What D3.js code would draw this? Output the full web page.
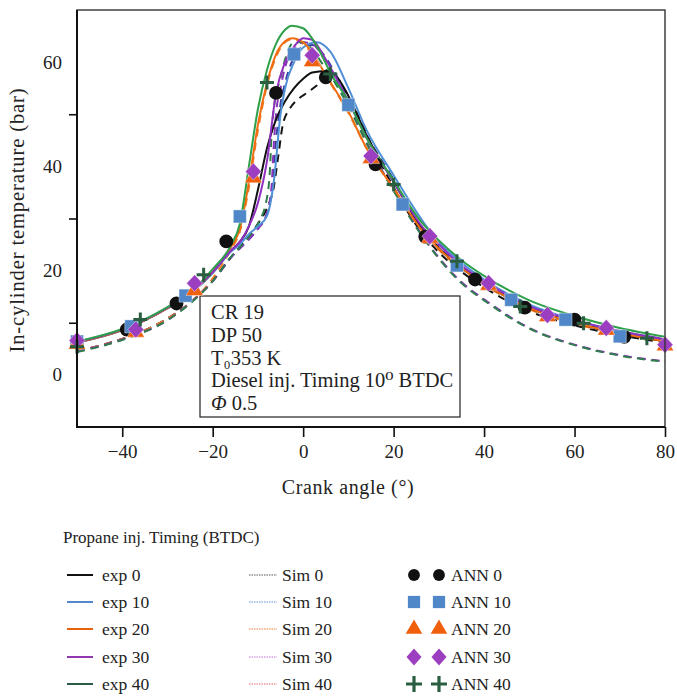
<!DOCTYPE html>
<html>
<head>
<meta charset="utf-8">
<script src="https://cdn.jsdelivr.net/npm/d3@7"></script>
<style>
  body { margin: 0; background: #fff; }
  text { font-family: "Liberation Serif", "DejaVu Serif", serif; fill: #222; }
</style>
</head>
<body>
<div id="chart"></div>
<script>
// experimental curves, [crank angle, value]
var exp0 = [[-50,6.2],[-40,8.6],[-30,12.8],[-25,15.6],[-20,19.6],[-16,23.8],[-14,25.5],[-12,28.5],[-10,35.5],[-8,43.5],[-6,49],[-4,52.5],[-2,55],[0,56.8],[2,58],[5,58.3],[8,56.5],[10,53.5],[14,46],[20,37],[26,28.5],[30,24.3],[35,20.5],[40,17.5],[50,12.8],[60,10],[70,8],[80,6.5]];
var exp10 = [[-50,6.2],[-40,8.6],[-30,12.8],[-25,15.6],[-20,19.6],[-16,23.6],[-14,25],[-12,27],[-10,28.5],[-8,30.5],[-6.5,37],[-5,50],[-4,55],[-2,60],[0,62.8],[3,63.8],[6,62],[10,55],[14,47],[20,38.3],[27,28.8],[30,25.5],[35,21.5],[40,18.3],[50,13.5],[60,10.5],[70,8.4],[80,6.8]];
var exp20 = [[-50,6.2],[-40,8.6],[-30,12.8],[-25,15.6],[-20,19.8],[-16,24.5],[-14,28],[-12,37],[-10,48],[-8,56],[-6,61.5],[-4,64],[-2.5,64.6],[0,63.8],[2,61.8],[4,59],[6,56.2],[10,50.5],[14,43.5],[20,35.8],[26,28],[30,24.2],[35,20.5],[40,17.5],[50,12.8],[60,10],[70,8],[80,6.5]];
var exp30 = [[-50,6.3],[-40,8.7],[-30,12.9],[-25,15.7],[-20,19.7],[-16,23.8],[-14,25.5],[-12,28.5],[-10,33],[-8,41],[-6,54],[-4,60],[-2,63],[0,64.6],[2,64.3],[4,62],[6,59],[10,52.5],[14,45.5],[20,37],[26,28.8],[30,25],[35,21],[40,18],[50,13.2],[60,10.5],[70,8.4],[80,6.8]];
var exp40 = [[-50,6.4],[-40,8.8],[-30,13],[-25,15.8],[-20,20.3],[-16,24.8],[-14,29],[-12,40],[-10,51],[-8,58.5],[-6,63.5],[-4,66.2],[-2.5,67],[0,66.5],[2,64.5],[4,61.5],[6,58],[10,52.5],[14,45.5],[20,37.3],[26,29.5],[30,25.8],[35,22],[40,19],[50,14.3],[60,11.3],[70,9],[80,7.3]];

// simulated curves
var sim0 = [[-50,4.6],[-40,6.9],[-30,10.8],[-25,13.8],[-20,18],[-16,22.5],[-14,24.5],[-12,26.5],[-10,29],[-8,32],[-6.5,36],[-5.5,42],[-4.5,48],[-3,51],[-1,53],[1,54.2],[3,55.5],[5,57],[7,57.3],[9,55],[12,50],[16,42.5],[20,36],[26,27.5],[30,23.5],[35,19.8],[40,16.8],[50,12.2],[60,9.5],[70,7.6],[80,6.2]];
var sim10 = [[-50,4.6],[-40,6.9],[-30,10.8],[-25,13.8],[-20,18],[-16,22.5],[-12,26],[-10,28],[-8,31],[-7,35],[-6,45],[-5,52],[-4,56],[-2,61],[0,63],[2,63.3],[4,62],[6,59.5],[10,53],[14,46],[20,37.5],[26,28.5],[30,24.5],[35,20.8],[40,17.8],[50,13],[60,10.2],[70,8.2],[80,6.6]];
var sim20 = [[-50,4.6],[-40,6.9],[-30,10.8],[-25,13.8],[-20,18.5],[-16,24],[-14,27.5],[-12,36],[-10,47],[-8,55.5],[-6,61],[-4,63.8],[-2.5,64.4],[0,63.5],[2,61.5],[4,58.8],[6,56],[10,50.3],[14,43.5],[20,35.8],[26,28],[30,24],[35,20.3],[40,17.3],[50,12.6],[60,9.8],[70,7.9],[80,6.4]];
var sim30 = [[-50,4.5],[-40,6.8],[-30,10.5],[-25,13.8],[-20,18],[-16,22.5],[-12,26],[-10,28],[-8,31],[-7,36],[-6.5,44],[-6,50],[-5,55],[-4,59],[-2,62.5],[0,63.8],[2,63.5],[4,61.5],[6,58.5],[10,52],[15,43],[20,35.5],[25,28.5],[30,22.5],[35,17.8],[40,14.5],[50,9],[60,5.8],[70,3.8],[80,2.6]];
var sim40 = [[-50,4.4],[-40,6.7],[-30,10.5],[-25,13.7],[-20,18],[-16,22.6],[-12,26.5],[-10,29],[-8,34],[-7.3,40],[-7,46],[-6.5,51],[-5,57],[-4,60.5],[-2,63.8],[0,63.8],[2,62.5],[4,60],[6,57.5],[10,51.5],[15,42.8],[20,35.3],[25,28.3],[30,22.3],[35,17.6],[40,14.3],[50,8.9],[60,5.7],[70,3.7],[80,2.5]];

// ANN predictions
var ann0X = [-50,-39,-28,-17,-6,5,16,27,38,49,60,71];
var ann0Y = [6.2,8.7,13.7,25.6,54.1,57.1,40.4,26.5,18.3,12.9,10.6,7.3];
var ann10X = [-50,-38,-26,-14,-2,10,22,34,46,58,70];
var ann10Y = [6.4,9.3,15.2,30.4,61.5,51.8,32.7,21.0,14.4,10.6,7.4];
var ann20X = [-50,-37,-24,-11,2,15,28,41,54,67,80];
var ann20Y = [5.9,8.2,16.2,37.8,60.1,41.5,26.2,17.2,11.2,8.6,5.6];
var ann30X = [-50,-37,-24,-11,2,15,28,41,54,67,80];
var ann30Y = [6.6,8.7,17.6,39.0,61.3,42.0,26.6,17.6,11.5,9.0,5.8];
var ann40X = [-50,-36,-22,-8,6,20,34,48,62,76];
var ann40Y = [5.4,10.6,19.2,56.1,57.7,36.5,21.8,13.1,9.9,7.05];

var xTicks = [-40,-20,0,20,40,60,80];
var yLabels = [0,20,40,60];
var yMinor = [10,30,50];

var expNames = ["exp 0","exp 10","exp 20","exp 30","exp 40"];
var simNames = ["Sim 0","Sim 10","Sim 20","Sim 30","Sim 40"];
var annNames = ["ANN 0","ANN 10","ANN 20","ANN 30","ANN 40"];

(function(){
var W = 677, H = 697;
var pL = 77, pR = 665, pT = 10, pB = 427;

var svg = d3.select("#chart").append("svg")
  .attr("width", W)
  .attr("height", H);

var x = d3.scaleLinear().domain([-50, 80]).range([pL, pR]);
var y = d3.scaleLinear().domain([-10, 70]).range([pB, pT]);

svg.append("defs").append("clipPath").attr("id", "clip")
  .append("rect")
  .attr("x", pL).attr("y", pT)
  .attr("width", pR - pL).attr("height", pB - pT);

var line = d3.line()
  .x(function(d){ return x(d[0]); })
  .y(function(d){ return y(d[1]); })
  .curve(d3.curveMonotoneX);

// text box
svg.append("rect")
  .attr("x", 200).attr("y", 296)
  .attr("width", 260).attr("height", 121)
  .attr("fill", "#fff")
  .attr("stroke", "#222")
  .attr("stroke-width", 1.2);

var boxLines = ["CR 19", "DP 50", "T\u2080353 K", "Diesel inj. Timing 10\u2070 BTDC"];
svg.selectAll("text.box")
  .data(boxLines)
  .enter()
  .append("text")
  .attr("x", 211)
  .attr("y", function(d, i){ return 319 + i * 22.8; })
  .attr("font-size", 20.5)
  .text(function(d){ return d; });
var phi = svg.append("text").attr("x", 211).attr("y", 410).attr("font-size", 20.5);
phi.append("tspan").attr("font-style", "italic").text("Φ");
phi.append("tspan").text(" 0.5");

var plot = svg.append("g").attr("clip-path", "url(#clip)");

var simSeries = [sim0, sim10, sim20, sim30, sim40];
var simColors = ["#151515", "#3a3f9e", "#f07a20", "#8a35b8", "#2f7d4c"];
var expSeries = [exp0, exp10, exp20, exp30, exp40];
var expColors = ["#111111", "#4f8fd6", "#f06c10", "#9030c0", "#2ea04a"];

plot.selectAll("path.sim")
  .data(simSeries)
  .enter()
  .append("path")
  .attr("class", "sim")
  .attr("d", line)
  .attr("fill", "none")
  .attr("stroke", function(d, i){ return simColors[i]; })
  .attr("stroke-width", 2)
  .attr("stroke-dasharray", "8,6");

plot.selectAll("path.exp")
  .data(expSeries)
  .enter()
  .append("path")
  .attr("class", "exp")
  .attr("d", line)
  .attr("fill", "none")
  .attr("stroke", function(d, i){ return expColors[i]; })
  .attr("stroke-width", 2);

// markers
function pts(xs, ys){
  return xs.map(function(v, i){ return [v, ys[i]]; });
}
var annColors = ["#111111", "#4f87c9", "#f0600c", "#9b3ec0", "#2a5e40"];
var shapes = {
  circle: d3.symbol().type(d3.symbolCircle).size(150)(),
  square: d3.symbol().type(d3.symbolSquare).size(170)(),
  triangle: d3.symbol().type(d3.symbolTriangle).size(130)(),
  diamond: "M0,-8.5L8,0L0,8.5L-8,0Z",
  plus: "M-7,0H7M0,-7V7"
};

function drawMarks(data, kind, color){
  var g = svg.append("g");
  var isPlus = kind === "plus";
  g.selectAll("path")
    .data(data)
    .enter()
    .append("path")
    .attr("d", shapes[kind])
    .attr("transform", function(d){ return "translate(" + x(d[0]) + "," + y(d[1]) + ")"; })
    .attr("fill", isPlus ? "none" : color)
    .attr("stroke", isPlus ? color : (kind === "circle" ? "none" : "rgba(255,255,255,0.5)"))
    .attr("stroke-width", isPlus ? 3 : 0.8);
}
drawMarks(pts(ann0X, ann0Y), "circle", annColors[0]);
drawMarks(pts(ann10X, ann10Y), "square", annColors[1]);
drawMarks(pts(ann20X, ann20Y), "triangle", annColors[2]);
drawMarks(pts(ann30X, ann30Y), "diamond", annColors[3]);
drawMarks(pts(ann40X, ann40Y), "plus", annColors[4]);

// frame
svg.append("rect")
  .attr("x", pL).attr("y", pT)
  .attr("width", pR - pL).attr("height", pB - pT)
  .attr("fill", "none")
  .attr("stroke", "#333")
  .attr("stroke-width", 1.4);
svg.append("path")
  .attr("d", "M" + pL + "," + pT + "V" + pB + "H" + pR)
  .attr("fill", "none")
  .attr("stroke", "#111")
  .attr("stroke-width", 2);

// x axis
var xAxis = svg.append("g")
  .attr("transform", "translate(0," + pB + ")")
  .call(d3.axisBottom(x).tickValues(xTicks).tickSize(10).tickPadding(8)
    .tickFormat(function(d){ return d < 0 ? "\u2212" + Math.abs(d) : d; }));
xAxis.select(".domain").remove();
xAxis.selectAll("line").attr("stroke", "#111").attr("stroke-width", 1.6);
xAxis.selectAll("text").attr("font-size", 19).attr("font-family", "Liberation Serif, serif").attr("fill", "#222");

// y axis: labels and minor ticks are separate
var yAxis = svg.append("g")
  .attr("transform", "translate(" + pL + ",0)")
  .call(d3.axisLeft(y).tickValues(yLabels).tickSize(0).tickPadding(15));
yAxis.select(".domain").remove();
yAxis.selectAll("text").attr("font-size", 19).attr("font-family", "Liberation Serif, serif").attr("fill", "#222");

var yTickG = svg.append("g")
  .attr("transform", "translate(" + pL + ",0)")
  .call(d3.axisLeft(y).tickValues(yMinor).tickSize(8).tickFormat(""));
yTickG.select(".domain").remove();
yTickG.selectAll("line").attr("stroke", "#111").attr("stroke-width", 1.6);

// axis titles
svg.append("text")
  .attr("x", 348).attr("y", 494)
  .attr("text-anchor", "middle")
  .attr("font-size", 20)
  .attr("letter-spacing", 0.6)
  .text("Crank angle (°)");
svg.append("text")
  .attr("transform", "translate(24,220) rotate(-90)")
  .attr("text-anchor", "middle")
  .attr("font-size", 20.5)
  .attr("letter-spacing", 0.9)
  .text("In-cylinder temperature (bar)");

// legend
svg.append("text")
  .attr("x", 63).attr("y", 543)
  .attr("font-size", 17)
  .text("Propane inj. Timing (BTDC)");

var rowY = [575, 602, 629, 657, 684];
var legExp = ["#111111", "#5389c8", "#e8620a", "#9236b2", "#2b5a45"];
var legSim = ["#555555", "#5b8fd0", "#f07a30", "#c070d8", "#e06464"];

var leg = svg.append("g");
leg.selectAll("line.le")
  .data(expNames)
  .enter()
  .append("line")
  .attr("x1", 67).attr("x2", 93)
  .attr("y1", function(d, i){ return rowY[i]; })
  .attr("y2", function(d, i){ return rowY[i]; })
  .attr("stroke", function(d, i){ return legExp[i]; })
  .attr("stroke-width", 2);
leg.selectAll("text.le")
  .data(expNames)
  .enter()
  .append("text")
  .attr("x", 102)
  .attr("y", function(d, i){ return rowY[i] + 6; })
  .attr("font-size", 17.5)
  .text(function(d){ return d; });

leg.selectAll("line.ls")
  .data(simNames)
  .enter()
  .append("line")
  .attr("x1", 249).attr("x2", 277)
  .attr("y1", function(d, i){ return rowY[i]; })
  .attr("y2", function(d, i){ return rowY[i]; })
  .attr("stroke", function(d, i){ return legSim[i]; })
  .attr("stroke-width", 1)
  .attr("stroke-dasharray", "1.5,1");
leg.selectAll("text.ls")
  .data(simNames)
  .enter()
  .append("text")
  .attr("x", 282)
  .attr("y", function(d, i){ return rowY[i] + 6; })
  .attr("font-size", 17.5)
  .text(function(d){ return d; });

var kinds = ["circle", "square", "triangle", "diamond", "plus"];
var legShapes = {
  circle: d3.symbol().type(d3.symbolCircle).size(110)(),
  square: d3.symbol().type(d3.symbolSquare).size(150)(),
  triangle: d3.symbol().type(d3.symbolTriangle).size(120)(),
  diamond: "M0,-8.5L7.5,0L0,8.5L-7.5,0Z",
  plus: "M-8,0H8M0,-8V8"
};
[414, 439].forEach(function(cx){
  kinds.forEach(function(k, i){
    var p = leg.append("path")
      .attr("d", legShapes[k])
      .attr("transform", "translate(" + cx + "," + rowY[i] + ")");
    if (k === "plus") {
      p.attr("stroke", annColors[4]).attr("stroke-width", 3.2).attr("fill", "none");
    } else {
      p.attr("fill", annColors[i]);
    }
  });
});
leg.selectAll("text.la")
  .data(annNames)
  .enter()
  .append("text")
  .attr("x", 451)
  .attr("y", function(d, i){ return rowY[i] + 6; })
  .attr("font-size", 17.5)
  .text(function(d){ return d; });
})();
</script>
</body>
</html>
